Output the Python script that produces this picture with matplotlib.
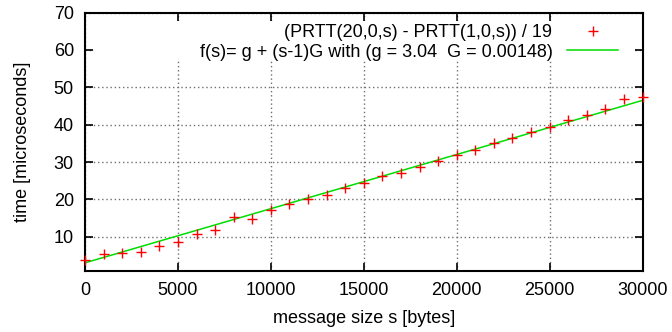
import matplotlib
matplotlib.use("Agg")
import matplotlib.pyplot as plt
from matplotlib.patches import Rectangle

plt.rcParams['font.family'] = ['Liberation Sans', 'DejaVu Sans']
plt.rcParams['font.size'] = 13

# measured points: message size in bytes, time in microseconds
sizes = [0, 1000, 2000, 3000, 4000, 5000, 6000, 7000, 8000, 9000,
         10000, 11000, 12000, 13000, 14000, 15000, 16000, 17000, 18000, 19000,
         20000, 21000, 22000, 23000, 24000, 25000, 26000, 27000, 28000, 29000, 30000]
times = [3.9, 5.5, 5.75, 5.9, 7.6, 8.6, 10.7, 11.9, 15.2, 14.7,
         17.1, 18.9, 20.1, 21.3, 23.0, 24.5, 26.3, 27.2, 28.8, 30.4,
         31.9, 33.1, 35.0, 36.4, 38.0, 39.4, 41.3, 42.7, 44.3, 46.9, 47.4]

# fitted line end points
fit_x = [0, 30000]
fit_y = [3.05, 46.5]

label_pts = "(PRTT(20,0,s) - PRTT(1,0,s)) / 19"
label_fit = "f(s)= g + (s-1)G with (g = 3.04  G = 0.00148)"

fig = plt.figure(figsize=(6.72, 3.32), dpi=100)
ax = fig.add_axes([85 / 672, 1 - 270.5 / 332, 557.5 / 672, 258 / 332])

ax.set_axisbelow(True)
ax.grid(True, color='#707070', linestyle=(0, (1, 2)), linewidth=1.0)

# opaque key area (gnuplot draws the key over the grid)
ax.add_patch(Rectangle((0.016, 0.812), 0.968, 0.155, transform=ax.transAxes,
                       facecolor='white', edgecolor='none', zorder=1))

ax.plot(sizes, times, linestyle='none', marker='+', color='#ff0000',
        markersize=6.5, markeredgewidth=1.0, label=label_pts, zorder=3,
        clip_on=False)
ax.plot(fit_x, fit_y, color='#00dd00', linewidth=1.1, label=label_fit, zorder=2)

ax.set_xlim(0, 30000)
ax.set_ylim(1, 70)
ax.set_xticks(range(0, 30001, 5000))
ax.set_yticks(range(10, 71, 10))

ax.tick_params(direction='in', length=6, width=1.2, top=True, right=True, pad=8)
for sp in ax.spines.values():
    sp.set_linewidth(1.5)

ax.set_xlabel("message size s [bytes]", labelpad=8)
ax.set_ylabel("time [microseconds]", labelpad=16)

ax.legend(loc='upper right', bbox_to_anchor=(0.9566, 0.955), markerfirst=False,
          frameon=False, borderpad=0, borderaxespad=0, handlelength=2.85,
          handletextpad=0.8, labelspacing=0.15, numpoints=1, fontsize=13)

fig.savefig("out.png", dpi=100)
